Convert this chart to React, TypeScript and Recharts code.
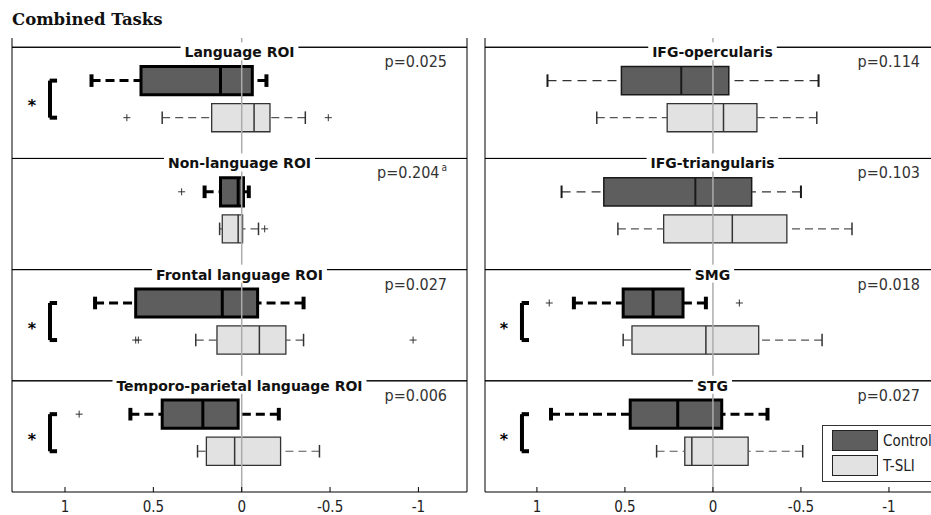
import React from "react";
import {
  ComposedChart,
  XAxis,
  YAxis,
  Scatter,
  ReferenceLine,
  ReferenceArea,
  Legend,
} from "recharts";

// box stats are [min, q1, median, q3, max]
const leftRegions = ["Language ROI", "Non-language ROI", "Frontal language ROI", "Temporo-parietal language ROI"];
const leftP = ["p=0.025", "p=0.204", "p=0.027", "p=0.006"];
const leftNote = ["", "a", "", ""];
const leftStar = [true, false, true, true];
const leftBold = [true, true, true, true];
const leftControl = [
  [-0.14, -0.06, 0.12, 0.57, 0.85],
  [-0.04, -0.01, 0.02, 0.12, 0.21],
  [-0.35, -0.09, 0.11, 0.6, 0.83],
  [-0.21, 0.02, 0.22, 0.45, 0.63],
];
const leftTsli = [
  [-0.36, -0.16, -0.07, 0.17, 0.45],
  [-0.095, -0.005, 0.02, 0.11, 0.125],
  [-0.35, -0.25, -0.1, 0.14, 0.26],
  [-0.44, -0.22, 0.04, 0.2, 0.25],
];
const leftControlOut = [[], [0.34], [], [0.92]];
const leftTsliOut = [[0.65, -0.49], [-0.13], [0.6, 0.585, -0.97], []];

const rightRegions = ["IFG-opercularis", "IFG-triangularis", "SMG", "STG"];
const rightP = ["p=0.114", "p=0.103", "p=0.018", "p=0.027"];
const rightNote = ["", "", "", ""];
const rightStar = [false, false, true, true];
const rightBold = [false, false, true, true];
const rightControl = [
  [-0.6, -0.09, 0.18, 0.52, 0.94],
  [-0.5, -0.22, 0.1, 0.62, 0.86],
  [0.04, 0.17, 0.34, 0.51, 0.79],
  [-0.31, -0.05, 0.2, 0.47, 0.92],
];
const rightTsli = [
  [-0.59, -0.25, -0.06, 0.26, 0.66],
  [-0.79, -0.42, -0.11, 0.28, 0.54],
  [-0.62, -0.26, 0.04, 0.46, 0.51],
  [-0.51, -0.2, 0.12, 0.16, 0.32],
];
const rightControlOut = [[], [], [0.93, -0.15], []];
const rightTsliOut = [[], [], [], []];

const xTicks = [1, 0.5, 0, -0.5, -1];
const groups = ["Control", "T-SLI"];
const groupFill = ["#5e5e5e", "#e2e2e2"];

const ROW = 3;
const OFF = [0.9, 1.9];
const HALF = 0.38;
const CAP = 0.17;

const TITLE_FONT = "bold 14px 'DejaVu Sans'";

let ctx: CanvasRenderingContext2D | null = null;
function textWidth(t: string, font: string) {
  if (!ctx) ctx = document.createElement("canvas").getContext("2d");
  if (!ctx) return t.length * 8.5;
  ctx.font = font;
  return ctx.measureText(t).width;
}

type Style = { stroke: string; box: number; whisk: number; whiskColor: string; dash: string; cap: number; med: number };
const boldStyle: Style = { stroke: "#000", box: 3, whisk: 3, whiskColor: "#000", dash: "9 5", cap: 4, med: 3 };
const thinControl: Style = { stroke: "#1a1a1a", box: 1.5, whisk: 1.3, whiskColor: "#333", dash: "9 6", cap: 2, med: 2 };
const tsliStyle: Style = { stroke: "#333", box: 1.3, whisk: 1.2, whiskColor: "#555", dash: "8 5", cap: 1.5, med: 1.5 };

function boxElements(key: string, s: number[], y: number, fill: string, st: Style) {
  const [mn, q1, md, q3, mx] = s;
  return [
    <ReferenceLine key={key + "wl"} segment={[{ x: mx, y }, { x: q3, y }]} stroke={st.whiskColor} strokeWidth={st.whisk} strokeDasharray={st.dash} />,
    <ReferenceLine key={key + "wr"} segment={[{ x: mn, y }, { x: q1, y }]} stroke={st.whiskColor} strokeWidth={st.whisk} strokeDasharray={st.dash} />,
    <ReferenceLine key={key + "cl"} segment={[{ x: mx, y: y - CAP }, { x: mx, y: y + CAP }]} stroke={st.stroke} strokeWidth={st.cap} />,
    <ReferenceLine key={key + "cr"} segment={[{ x: mn, y: y - CAP }, { x: mn, y: y + CAP }]} stroke={st.stroke} strokeWidth={st.cap} />,
    <ReferenceArea key={key + "b"} x1={q1} x2={q3} y1={y - HALF} y2={y + HALF} fill={fill} fillOpacity={1} stroke={st.stroke} strokeWidth={st.box} />,
    <ReferenceLine key={key + "m"} segment={[{ x: md, y: y - HALF }, { x: md, y: y + HALF }]} stroke={st.stroke} strokeWidth={st.med} />,
  ];
}

const plus = (p: any) => (
  <g stroke="#333" strokeWidth={1}>
    <line x1={p.cx - 3.5} x2={p.cx + 3.5} y1={p.cy} y2={p.cy} />
    <line x1={p.cx} x2={p.cx} y1={p.cy - 3.5} y2={p.cy + 3.5} />
  </g>
);

const tickLabel = (tp: any) => (
  <text x={tp.x} y={tp.y + 11} textAnchor="middle" fontSize={15} fontFamily="'DejaVu Sans Condensed'" fill="#222">
    {String(tp.payload.value)}
  </text>
);

interface PanelProps {
  regions: string[];
  p: string[];
  note: string[];
  star: boolean[];
  bold: boolean[];
  control: number[][];
  tsli: number[][];
  controlOut: number[][];
  tsliOut: number[][];
  domain: [number, number];
  legend?: boolean;
}

function Panel(props: PanelProps) {
  const { regions, p, note, star, bold, control, tsli, controlOut, tsliOut, domain, legend } = props;

  const outliers: { x: number; y: number }[] = [];
  regions.forEach((_, i) => {
    controlOut[i].forEach((v) => outliers.push({ x: v, y: ROW * i + OFF[0] }));
    tsliOut[i].forEach((v) => outliers.push({ x: v, y: ROW * i + OFF[1] }));
  });

  return (
    <ComposedChart width={480} height={515} margin={{ top: 38, right: 13, bottom: 0, left: 12 }}>
      <XAxis
        type="number"
        dataKey="x"
        domain={domain}
        reversed
        allowDataOverflow
        ticks={xTicks}
        interval={0}
        height={23}
        tickSize={-5}
        tickMargin={14}
        stroke="#000"
        tick={tickLabel}
      />
      <YAxis type="number" dataKey="y" domain={[-0.25, ROW * 4]} reversed hide allowDataOverflow />

      {regions.map((_, i) => [
        ...boxElements(`c${i}`, control[i], ROW * i + OFF[0], groupFill[0], bold[i] ? boldStyle : thinControl),
        ...boxElements(`t${i}`, tsli[i], ROW * i + OFF[1], groupFill[1], tsliStyle),
      ])}

      <ReferenceLine x={0} stroke="#acacac" strokeWidth={1.5} />

      <Scatter data={outliers} shape={plus} isAnimationActive={false} />

      <ReferenceLine x={domain[1]} stroke="#000" />
      <ReferenceLine x={domain[0]} stroke="#000" />

      {star.map((s, i) =>
        s
          ? [
              <ReferenceLine
                key={`bv${i}`}
                segment={[{ x: 1.085, y: ROW * i + OFF[0] }, { x: 1.085, y: ROW * i + OFF[1] }]}
                stroke="#000"
                strokeWidth={4}
                label={(lp: any) => (
                  <text
                    x={lp.viewBox.x - 18}
                    y={lp.viewBox.y + lp.viewBox.height / 2 + 12}
                    textAnchor="middle"
                    fontSize={16}
                    fontWeight="bold"
                    fontFamily="'DejaVu Sans'"
                    fill="#000"
                  >
                    *
                  </text>
                )}
              />,
              <ReferenceLine key={`bt${i}`} segment={[{ x: 1.087, y: ROW * i + OFF[0] }, { x: 1.045, y: ROW * i + OFF[0] }]} stroke="#000" strokeWidth={4} />,
              <ReferenceLine key={`bb${i}`} segment={[{ x: 1.087, y: ROW * i + OFF[1] }, { x: 1.045, y: ROW * i + OFF[1] }]} stroke="#000" strokeWidth={4} />,
            ]
          : null
      )}

      {regions.map((r, i) => (
        <ReferenceLine
          key={`sep${i}`}
          y={ROW * i}
          stroke="#000"
          strokeWidth={1}
          label={(lp: any) => {
            const { x, y, width } = lp.viewBox;
            const cx = x + width / 2;
            const tw = textWidth(r, TITLE_FONT) + 8;
            return (
              <g>
                <rect x={cx - tw / 2} y={y - 5} width={tw} height={18} fill="#fff" />
                <line x1={x} x2={cx - tw / 2} y1={y} y2={y} stroke="#000" />
                <line x1={cx + tw / 2} x2={x + width} y1={y} y2={y} stroke="#000" />
                <text x={cx} y={y + 10} textAnchor="middle" fontSize={14} fontWeight="bold" fontFamily="'DejaVu Sans'" fill="#111">
                  {r}
                </text>
                <text x={x + width - 20} y={y + 20} textAnchor="end" fontSize={16} fontFamily="'DejaVu Sans Condensed'" fill="#333">
                  {p[i]}
                  {note[i] ? (
                    <tspan dx={2} dy={-7} fontSize={10}>
                      {note[i]}
                    </tspan>
                  ) : null}
                </text>
              </g>
            );
          }}
        />
      ))}

      {legend ? (
        <Legend
          layout="horizontal"
          verticalAlign="middle"
          align="center"
          width={125}
          height={57}
          wrapperStyle={{ left: 349, top: 425 }}
          content={() => (
            <div
              style={{
                width: 125,
                height: 57,
                border: "1px solid #333",
                background: "#fff",
                boxSizing: "border-box",
                position: "relative",
              }}
            >
              {groups.map((g, i) => (
                <div key={g} style={{ position: "absolute", left: 9, top: 4 + i * 25, display: "flex", alignItems: "center" }}>
                  <span
                    style={{
                      display: "inline-block",
                      width: 46,
                      height: 21,
                      background: groupFill[i],
                      border: "1px solid #222",
                      boxSizing: "border-box",
                    }}
                  />
                  <span style={{ marginLeft: 5, font: "15px 'DejaVu Sans Condensed'", color: "#222" }}>{g}</span>
                </div>
              ))}
            </div>
          )}
        />
      ) : null}
    </ComposedChart>
  );
}

export default function App() {
  return (
    <div style={{ position: "absolute", left: 0, top: 0, width: 931, height: 515, overflow: "hidden", background: "#fff" }}>
      <div
        style={{
          position: "absolute",
          left: 12,
          top: 11,
          font: "bold 16.5px 'DejaVu Serif'",
          lineHeight: "18px",
          color: "#111",
          whiteSpace: "nowrap",
        }}
      >
        Combined Tasks
      </div>
      <div style={{ position: "absolute", left: 0, top: 0 }}>
        <Panel
          regions={leftRegions}
          p={leftP}
          note={leftNote}
          star={leftStar}
          bold={leftBold}
          control={leftControl}
          tsli={leftTsli}
          controlOut={leftControlOut}
          tsliOut={leftTsliOut}
          domain={[-1.275, 1.3]}
        />
      </div>
      <div style={{ position: "absolute", left: 473, top: 0 }}>
        <Panel
          regions={rightRegions}
          p={rightP}
          note={rightNote}
          star={rightStar}
          bold={rightBold}
          control={rightControl}
          tsli={rightTsli}
          controlOut={rightControlOut}
          tsliOut={rightTsliOut}
          domain={[-1.29, 1.295]}
          legend
        />
      </div>
    </div>
  );
}
